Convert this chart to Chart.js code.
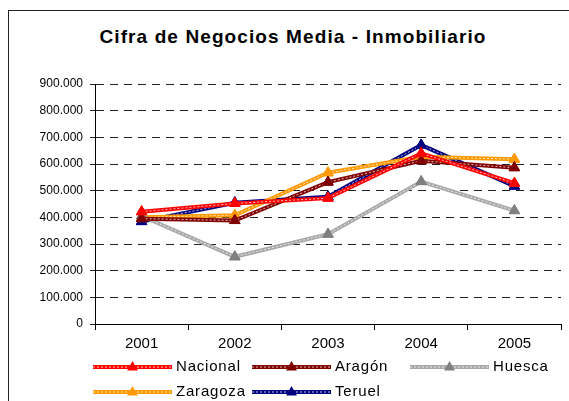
<!DOCTYPE html>
<html>
<head>
<meta charset="utf-8">
<script src="https://cdn.jsdelivr.net/npm/chart.js@4/dist/chart.umd.min.js"></script>
<style>
  body { margin: 0; background: #fff; overflow: hidden; }
  #wrap { position: relative; width: 569px; height: 401px; }
  #frame { position: absolute; left: 8px; top: 10px; width: 700px; height: 500px; border: 1px solid #222; }
  #title { position: absolute; left: 0; top: 26px; width: 586px; text-align: center; letter-spacing: 1.1px;
           font: bold 19px "Liberation Sans", Arial, sans-serif; line-height: 22px; color: #000; }
  canvas { position: absolute; left: 0; top: 0; }
</style>
</head>
<body>
<div id="wrap">
  <div id="frame"></div>
  <div id="title">Cifra de Negocios Media - Inmobiliario</div>
  <canvas id="chart" width="569" height="401"></canvas>
</div>
<script>
const years = ["2001", "2002", "2003", "2004", "2005"];

const nacional = [421000, 452000, 472000, 640000, 528000];
const aragon   = [395000, 388000, 532000, 612000, 586000];
const huesca   = [405000, 252000, 337000, 534000, 425000];
const zaragoza = [400000, 408000, 567000, 627000, 618000];
const teruel   = [384000, 455000, 477000, 671000, 517000];

const seriesNames = ["Nacional", "Aragón", "Huesca", "Zaragoza", "Teruel"];
const lineColors  = ["#ff0000", "#800000", "#a8a8a8", "#ff9900", "#000080"];
const markColors  = ["#ff0000", "#800000", "#808080", "#ff9900", "#000080"];

const yTicks = [0, 100000, 200000, 300000, 400000, 500000, 600000, 700000, 800000, 900000];

const allValues = [nacional, aragon, huesca, zaragoza, teruel];

const datasets = allValues.map((vals, i) => ({
    label: seriesNames[i],
    data: vals,
    borderColor: lineColors[i],
    backgroundColor: markColors[i],
    borderWidth: 4,
    pointStyle: "triangle",
    pointRadius: 6,
    pointBackgroundColor: markColors[i],
    pointBorderColor: markColors[i],
    pointBorderWidth: 1,
    tension: 0,
    fill: false
}));

// dotted white core on top of each thick line, like the Excel pattern
const patternLines = {
    id: "patternLines",
    afterDatasetDraw(chart, args) {
        const pts = args.meta.data;
        const ctx = chart.ctx;
        ctx.save();
        ctx.strokeStyle = "rgba(255,255,255,0.75)";
        ctx.lineWidth = 1;
        ctx.setLineDash([2, 2]);
        ctx.beginPath();
        pts.forEach((p, i) => i ? ctx.lineTo(p.x, p.y) : ctx.moveTo(p.x, p.y));
        ctx.stroke();
        ctx.restore();
        // redraw markers above the pattern
        pts.forEach(p => p.draw(ctx, chart.chartArea));
    }
};

// legend below the x axis: sample line + triangle + name
const legendBelow = {
    id: "legendBelow",
    afterDraw(chart) {
        const ctx = chart.ctx;
        const left = chart.chartArea.left;
        const cols = [left - 2, left + 157, left + 315];
        const rows = [367, 392];
        const sampleW = 79;
        const r = 6;
        ctx.save();
        chart.data.datasets.forEach((ds, i) => {
            const x0 = cols[i % 3];
            const y = rows[Math.floor(i / 3)];
            const xm = x0 + sampleW / 2;
            ctx.strokeStyle = ds.borderColor;
            ctx.lineWidth = 4;
            ctx.setLineDash([]);
            ctx.beginPath();
            ctx.moveTo(x0, y);
            ctx.lineTo(x0 + sampleW, y);
            ctx.stroke();
            ctx.strokeStyle = "rgba(255,255,255,0.75)";
            ctx.lineWidth = 1;
            ctx.setLineDash([2, 2]);
            ctx.beginPath();
            ctx.moveTo(x0, y);
            ctx.lineTo(x0 + sampleW, y);
            ctx.stroke();
            ctx.setLineDash([]);
            ctx.fillStyle = ds.pointBackgroundColor;
            ctx.beginPath();
            ctx.moveTo(xm, y - r);
            ctx.lineTo(xm + r * 0.9, y + r * 0.6);
            ctx.lineTo(xm - r * 0.9, y + r * 0.6);
            ctx.closePath();
            ctx.fill();
            ctx.fillStyle = "#000";
            ctx.font = "15px 'Liberation Sans', Arial, sans-serif";
            ctx.letterSpacing = "0.8px";
            ctx.textBaseline = "middle";
            ctx.fillText(ds.label, x0 + sampleW + 4, y);
        });
        ctx.restore();
    }
};

new Chart(document.getElementById("chart"), {
    type: "line",
    data: { labels: years, datasets: datasets },
    options: {
        responsive: false,
        animation: false,
        layout: { padding: { top: 84, left: 8, right: 8, bottom: 47 } },
        plugins: {
            legend: { display: false },
            title: { display: false },
            tooltip: { enabled: false }
        },
        scales: {
            x: {
                type: "category",
                offset: true,
                afterFit: s => { s.height = 30; },
                grid: { offset: true, drawOnChartArea: false, tickLength: 6, color: "#000" },
                border: { color: "#000", width: 1 },
                ticks: { color: "#000", padding: 5, font: { family: "'Liberation Sans', Arial", size: 15 } }
            },
            y: {
                min: 0,
                max: 900000,
                afterFit: s => { s.width = 87; },
                afterBuildTicks: s => { s.ticks = yTicks.map(v => ({ value: v })); },
                grid: { color: "#222", tickLength: 5, tickBorderDash: [] },
                border: { color: "#000", width: 1, dash: [8, 6] },
                ticks: {
                    color: "#000",
                    padding: 7,
                    font: { family: "'Liberation Sans', Arial", size: 12 },
                    callback: v => v.toLocaleString("de-DE")
                }
            }
        }
    },
    plugins: [patternLines, legendBelow]
});
</script>
</body>
</html>
